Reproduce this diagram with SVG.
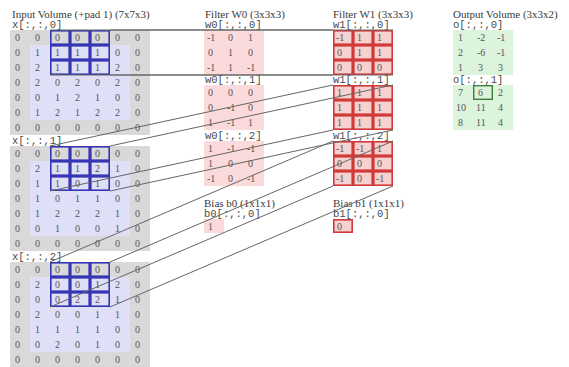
<svg xmlns="http://www.w3.org/2000/svg" width="569" height="367" viewBox="0 0 569 367">
<style>
.t{font-family:"Liberation Serif",serif;font-size:11px;fill:#3a3a3a}
.lb{font-family:"Liberation Mono",monospace;font-size:10.5px;fill:#4a4a4a}
.n text,text.n{font-family:"Liberation Serif",serif;font-size:10px;fill:#555}
.pad{fill:#d9d9d9}
.in{fill:#dfdff7}
.hb{fill:none;stroke:#3535b5;stroke-width:1.6}
.w{fill:#fadada}
.wa{fill:#f7d0d0;stroke:#d03a3a;stroke-width:1.6}
.o{fill:#dcf4dc}
.ob{fill:none;stroke:#3b7d3b;stroke-width:1.4}
#connectors line{stroke:#666;stroke-width:1}
</style>
<rect width="569" height="367" fill="#fff"/>

<!-- column titles -->
<g id="titles">
<text class="t" x="12" y="18">Input Volume (+pad 1) (7x7x3)</text>
<text class="t" x="205" y="18">Filter W0 (3x3x3)</text>
<text class="t" x="333" y="18">Filter W1 (3x3x3)</text>
<text class="t" x="453" y="18">Output Volume (3x3x2)</text>
</g>

<!-- input slice 0 -->
<g id="x0">
<text class="lb" x="12" y="27.5">x[:,:,0]</text>
<rect class="pad" x="10" y="30" width="140" height="105"/>
<rect class="in" x="30" y="45" width="100" height="75"/>
<g class="n">
<text x="15" y="41">0</text><text x="35" y="41">0</text><text x="55" y="41">0</text><text x="75" y="41">0</text><text x="95" y="41">0</text><text x="115" y="41">0</text><text x="135" y="41">0</text>
<text x="15" y="56">0</text><text x="35" y="56">1</text><text x="55" y="56">1</text><text x="75" y="56">1</text><text x="95" y="56">1</text><text x="115" y="56">0</text><text x="135" y="56">0</text>
<text x="15" y="71">0</text><text x="35" y="71">2</text><text x="55" y="71">1</text><text x="75" y="71">1</text><text x="95" y="71">1</text><text x="115" y="71">2</text><text x="135" y="71">0</text>
<text x="15" y="86">0</text><text x="35" y="86">2</text><text x="55" y="86">0</text><text x="75" y="86">2</text><text x="95" y="86">0</text><text x="115" y="86">2</text><text x="135" y="86">0</text>
<text x="15" y="101">0</text><text x="35" y="101">0</text><text x="55" y="101">1</text><text x="75" y="101">2</text><text x="95" y="101">1</text><text x="115" y="101">0</text><text x="135" y="101">0</text>
<text x="15" y="116">0</text><text x="35" y="116">1</text><text x="55" y="116">2</text><text x="75" y="116">1</text><text x="95" y="116">2</text><text x="115" y="116">2</text><text x="135" y="116">0</text>
<text x="15" y="131">0</text><text x="35" y="131">0</text><text x="55" y="131">0</text><text x="75" y="131">0</text><text x="95" y="131">0</text><text x="115" y="131">0</text><text x="135" y="131">0</text>
</g>
<g class="hb">
<rect x="50.8" y="30.8" width="18.4" height="13.4"/><rect x="70.8" y="30.8" width="18.4" height="13.4"/><rect x="90.8" y="30.8" width="18.4" height="13.4"/>
<rect x="50.8" y="45.8" width="18.4" height="13.4"/><rect x="70.8" y="45.8" width="18.4" height="13.4"/><rect x="90.8" y="45.8" width="18.4" height="13.4"/>
<rect x="50.8" y="60.8" width="18.4" height="13.4"/><rect x="70.8" y="60.8" width="18.4" height="13.4"/><rect x="90.8" y="60.8" width="18.4" height="13.4"/>
</g>
</g>

<!-- input slice 1 -->
<g id="x1">
<text class="lb" x="12" y="143.5">x[:,:,1]</text>
<rect class="pad" x="10" y="146" width="140" height="105"/>
<rect class="in" x="30" y="161" width="100" height="75"/>
<g class="n">
<text x="15" y="157">0</text><text x="35" y="157">0</text><text x="55" y="157">0</text><text x="75" y="157">0</text><text x="95" y="157">0</text><text x="115" y="157">0</text><text x="135" y="157">0</text>
<text x="15" y="172">0</text><text x="35" y="172">2</text><text x="55" y="172">1</text><text x="75" y="172">1</text><text x="95" y="172">2</text><text x="115" y="172">1</text><text x="135" y="172">0</text>
<text x="15" y="187">0</text><text x="35" y="187">1</text><text x="55" y="187">1</text><text x="75" y="187">0</text><text x="95" y="187">1</text><text x="115" y="187">0</text><text x="135" y="187">0</text>
<text x="15" y="202">0</text><text x="35" y="202">1</text><text x="55" y="202">0</text><text x="75" y="202">1</text><text x="95" y="202">1</text><text x="115" y="202">0</text><text x="135" y="202">0</text>
<text x="15" y="217">0</text><text x="35" y="217">1</text><text x="55" y="217">2</text><text x="75" y="217">2</text><text x="95" y="217">2</text><text x="115" y="217">1</text><text x="135" y="217">0</text>
<text x="15" y="232">0</text><text x="35" y="232">0</text><text x="55" y="232">1</text><text x="75" y="232">0</text><text x="95" y="232">0</text><text x="115" y="232">1</text><text x="135" y="232">0</text>
<text x="15" y="247">0</text><text x="35" y="247">0</text><text x="55" y="247">0</text><text x="75" y="247">0</text><text x="95" y="247">0</text><text x="115" y="247">0</text><text x="135" y="247">0</text>
</g>
<g class="hb">
<rect x="50.8" y="146.8" width="18.4" height="13.4"/><rect x="70.8" y="146.8" width="18.4" height="13.4"/><rect x="90.8" y="146.8" width="18.4" height="13.4"/>
<rect x="50.8" y="161.8" width="18.4" height="13.4"/><rect x="70.8" y="161.8" width="18.4" height="13.4"/><rect x="90.8" y="161.8" width="18.4" height="13.4"/>
<rect x="50.8" y="176.8" width="18.4" height="13.4"/><rect x="70.8" y="176.8" width="18.4" height="13.4"/><rect x="90.8" y="176.8" width="18.4" height="13.4"/>
</g>
</g>

<!-- input slice 2 -->
<g id="x2">
<text class="lb" x="12" y="259.5">x[:,:,2]</text>
<rect class="pad" x="10" y="262" width="140" height="105"/>
<rect class="in" x="30" y="277" width="100" height="75"/>
<g class="n">
<text x="15" y="273">0</text><text x="35" y="273">0</text><text x="55" y="273">0</text><text x="75" y="273">0</text><text x="95" y="273">0</text><text x="115" y="273">0</text><text x="135" y="273">0</text>
<text x="15" y="288">0</text><text x="35" y="288">2</text><text x="55" y="288">0</text><text x="75" y="288">0</text><text x="95" y="288">1</text><text x="115" y="288">2</text><text x="135" y="288">0</text>
<text x="15" y="303">0</text><text x="35" y="303">0</text><text x="55" y="303">0</text><text x="75" y="303">2</text><text x="95" y="303">2</text><text x="115" y="303">1</text><text x="135" y="303">0</text>
<text x="15" y="318">0</text><text x="35" y="318">2</text><text x="55" y="318">0</text><text x="75" y="318">0</text><text x="95" y="318">1</text><text x="115" y="318">1</text><text x="135" y="318">0</text>
<text x="15" y="333">0</text><text x="35" y="333">1</text><text x="55" y="333">1</text><text x="75" y="333">1</text><text x="95" y="333">1</text><text x="115" y="333">0</text><text x="135" y="333">0</text>
<text x="15" y="348">0</text><text x="35" y="348">0</text><text x="55" y="348">2</text><text x="75" y="348">0</text><text x="95" y="348">1</text><text x="115" y="348">0</text><text x="135" y="348">0</text>
<text x="15" y="363">0</text><text x="35" y="363">0</text><text x="55" y="363">0</text><text x="75" y="363">0</text><text x="95" y="363">0</text><text x="115" y="363">0</text><text x="135" y="363">0</text>
</g>
<g class="hb">
<rect x="50.8" y="262.8" width="18.4" height="13.4"/><rect x="70.8" y="262.8" width="18.4" height="13.4"/><rect x="90.8" y="262.8" width="18.4" height="13.4"/>
<rect x="50.8" y="277.8" width="18.4" height="13.4"/><rect x="70.8" y="277.8" width="18.4" height="13.4"/><rect x="90.8" y="277.8" width="18.4" height="13.4"/>
<rect x="50.8" y="292.8" width="18.4" height="13.4"/><rect x="70.8" y="292.8" width="18.4" height="13.4"/><rect x="90.8" y="292.8" width="18.4" height="13.4"/>
</g>
</g>

<!-- filter W0 -->
<g id="w0">
<text class="lb" x="205" y="27.5">w0[:,:,0]</text>
<rect class="w" x="204" y="30" width="60" height="45"/>
<text class="lb" x="205" y="82.5">w0[:,:,1]</text>
<rect class="w" x="204" y="85" width="60" height="45"/>
<text class="lb" x="205" y="138.5">w0[:,:,2]</text>
<rect class="w" x="204" y="141" width="60" height="45"/>
<g class="n">
<text x="207" y="41">-1</text><text x="228" y="41">0</text><text x="248" y="41">1</text>
<text x="208" y="56">0</text><text x="228" y="56">1</text><text x="248" y="56">0</text>
<text x="207" y="71">-1</text><text x="228" y="71">1</text><text x="247" y="71">-1</text>
<text x="208" y="96">0</text><text x="228" y="96">0</text><text x="248" y="96">0</text>
<text x="208" y="111">0</text><text x="227" y="111">-1</text><text x="248" y="111">0</text>
<text x="208" y="126">1</text><text x="227" y="126">-1</text><text x="248" y="126">1</text>
<text x="208" y="152">1</text><text x="227" y="152">-1</text><text x="247" y="152">-1</text>
<text x="208" y="167">1</text><text x="228" y="167">0</text><text x="248" y="167">0</text>
<text x="207" y="182">-1</text><text x="228" y="182">0</text><text x="247" y="182">-1</text>
</g>
</g>

<!-- bias b0 -->
<g id="b0">
<text class="t" x="204" y="207">Bias b0 (1x1x1)</text>
<text class="lb" x="204" y="216.5">b0[:,:,0]</text>
<rect class="w" x="204" y="219" width="20" height="14"/>
<text class="n" x="208" y="229.5">1</text>
</g>

<!-- filter W1 (active) -->
<g id="w1">
<text class="lb" x="333" y="27.5">w1[:,:,0]</text>
<text class="lb" x="333" y="82.5">w1[:,:,1]</text>
<text class="lb" x="333" y="138.5">w1[:,:,2]</text>
<g>
<rect class="wa" x="333.8" y="30.8" width="18.4" height="13.4"/><rect class="wa" x="353.8" y="30.8" width="18.4" height="13.4"/><rect class="wa" x="373.8" y="30.8" width="18.4" height="13.4"/>
<rect class="wa" x="333.8" y="45.8" width="18.4" height="13.4"/><rect class="wa" x="353.8" y="45.8" width="18.4" height="13.4"/><rect class="wa" x="373.8" y="45.8" width="18.4" height="13.4"/>
<rect class="wa" x="333.8" y="60.8" width="18.4" height="13.4"/><rect class="wa" x="353.8" y="60.8" width="18.4" height="13.4"/><rect class="wa" x="373.8" y="60.8" width="18.4" height="13.4"/>
<rect class="wa" x="333.8" y="85.8" width="18.4" height="13.4"/><rect class="wa" x="353.8" y="85.8" width="18.4" height="13.4"/><rect class="wa" x="373.8" y="85.8" width="18.4" height="13.4"/>
<rect class="wa" x="333.8" y="100.8" width="18.4" height="13.4"/><rect class="wa" x="353.8" y="100.8" width="18.4" height="13.4"/><rect class="wa" x="373.8" y="100.8" width="18.4" height="13.4"/>
<rect class="wa" x="333.8" y="115.8" width="18.4" height="13.4"/><rect class="wa" x="353.8" y="115.8" width="18.4" height="13.4"/><rect class="wa" x="373.8" y="115.8" width="18.4" height="13.4"/>
<rect class="wa" x="333.8" y="141.8" width="18.4" height="13.4"/><rect class="wa" x="353.8" y="141.8" width="18.4" height="13.4"/><rect class="wa" x="373.8" y="141.8" width="18.4" height="13.4"/>
<rect class="wa" x="333.8" y="156.8" width="18.4" height="13.4"/><rect class="wa" x="353.8" y="156.8" width="18.4" height="13.4"/><rect class="wa" x="373.8" y="156.8" width="18.4" height="13.4"/>
<rect class="wa" x="333.8" y="171.8" width="18.4" height="13.4"/><rect class="wa" x="353.8" y="171.8" width="18.4" height="13.4"/><rect class="wa" x="373.8" y="171.8" width="18.4" height="13.4"/>
</g>
<g class="n">
<text x="336" y="41">-1</text><text x="357" y="41">1</text><text x="377" y="41">1</text>
<text x="337" y="56">0</text><text x="357" y="56">1</text><text x="377" y="56">1</text>
<text x="337" y="71">0</text><text x="357" y="71">0</text><text x="377" y="71">0</text>
<text x="337" y="96">1</text><text x="357" y="96">1</text><text x="377" y="96">1</text>
<text x="337" y="111">1</text><text x="357" y="111">1</text><text x="377" y="111">1</text>
<text x="337" y="126">1</text><text x="357" y="126">1</text><text x="377" y="126">1</text>
<text x="336" y="152">-1</text><text x="356" y="152">-1</text><text x="377" y="152">1</text>
<text x="337" y="167">0</text><text x="357" y="167">0</text><text x="377" y="167">0</text>
<text x="336" y="182">-1</text><text x="357" y="182">0</text><text x="376" y="182">-1</text>
</g>
</g>

<!-- bias b1 -->
<g id="b1">
<text class="t" x="333" y="207">Bias b1 (1x1x1)</text>
<text class="lb" x="333" y="216.5">b1[:,:,0]</text>
<rect class="wa" x="333.8" y="219.8" width="18.4" height="12.4"/>
<text class="n" x="337" y="229.5">0</text>
</g>

<!-- output volume -->
<g id="out">
<text class="lb" x="453" y="27.5">o[:,:,0]</text>
<rect class="o" x="453" y="30" width="60" height="45"/>
<text class="lb" x="453" y="82.5">o[:,:,1]</text>
<rect class="o" x="453" y="85" width="60" height="45"/>
<g class="n">
<text x="458" y="41">1</text><text x="477" y="41">-2</text><text x="497" y="41">-1</text>
<text x="458" y="56">2</text><text x="477" y="56">-6</text><text x="497" y="56">-1</text>
<text x="458" y="71">1</text><text x="478" y="71">3</text><text x="498" y="71">3</text>
<text x="458" y="96">7</text><text x="478" y="96">6</text><text x="498" y="96">2</text>
<text x="456" y="111">10</text><text x="476" y="111">11</text><text x="498" y="111">4</text>
<text x="458" y="126">8</text><text x="476" y="126">11</text><text x="498" y="126">4</text>
</g>
<rect class="ob" x="473.7" y="85.7" width="18.6" height="13.6"/>
</g>

<!-- receptive field corners to matching filter-slice corners -->
<g id="connectors">
<line x1="50" y1="30" x2="333" y2="30"/>
<line x1="110" y1="30" x2="393" y2="30"/>
<line x1="50" y1="75" x2="333" y2="75"/>
<line x1="110" y1="75" x2="393" y2="75"/>
<line x1="50" y1="146" x2="333" y2="85"/>
<line x1="110" y1="146" x2="393" y2="85"/>
<line x1="50" y1="191" x2="333" y2="130"/>
<line x1="110" y1="191" x2="393" y2="130"/>
<line x1="50" y1="262" x2="333" y2="141"/>
<line x1="110" y1="262" x2="393" y2="141"/>
<line x1="50" y1="307" x2="333" y2="186"/>
<line x1="110" y1="307" x2="393" y2="186"/>
</g>
</svg>
